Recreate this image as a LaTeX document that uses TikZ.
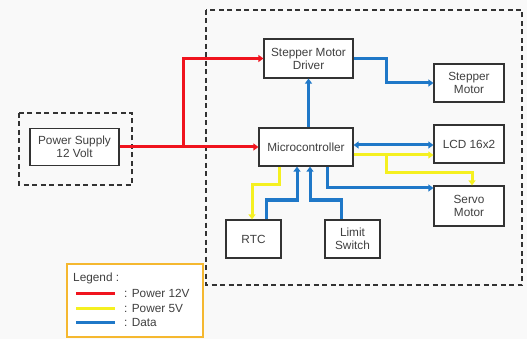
\documentclass[tikz,border=0pt]{standalone}
\usepackage{fontspec}
\setmainfont{Liberation Sans}
\usetikzlibrary{arrows.meta}
\definecolor{txt}{HTML}{404040}
\definecolor{pred}{HTML}{F0141E}
\definecolor{pyel}{HTML}{F5F020}
\definecolor{pblue}{HTML}{1F78C8}
\definecolor{lgborder}{HTML}{F5B830}
\tikzset{
  blk/.style={draw=black!80, line width=1.2pt, fill=white, text=txt, align=center, font=\fontsize{11.8}{13}\selectfont, inner sep=1pt},
  conn/.style={line width=3pt, -{Triangle[length=5pt,width=7pt]}},
  p12/.style={conn, draw=pred},
  p5/.style={conn, draw=pyel},
  dat/.style={conn, draw=pblue},
  grp/.style={draw=black!80, line width=1.1pt, dash pattern=on 5pt off 3.5pt},
  lgline/.style={line width=3pt},
  lgtext/.style={text=txt, font=\fontsize{11.8}{13}\selectfont, anchor=west, inner sep=0pt}
}
\begin{document}
\begin{tikzpicture}[x=1pt,y=-1pt]
\fill[gray!5] (0,0) rectangle (527,339);
\useasboundingbox (0,0) rectangle (527,339);
% groups
\draw[grp] (206,10) rectangle (522,285);
\draw[grp] (19,113) rectangle (132,185);
% nodes
\node[blk, minimum width=89pt, minimum height=37pt] (ps) at (74.5,147) {Power Supply\\12 Volt};
\node[blk, minimum width=89pt, minimum height=39pt] (drv) at (308.5,58.5) {Stepper Motor\\Driver};
\node[blk, minimum width=70pt, minimum height=38pt] (sm) at (469,83) {Stepper\\Motor};
\node[blk, minimum width=94pt, minimum height=38pt] (mc) at (306,147) {Microcontroller};
\node[blk, minimum width=70pt, minimum height=38pt] (lcd) at (469,144) {LCD 16x2};
\node[blk, minimum width=70pt, minimum height=40pt] (sv) at (469,206) {Servo\\Motor};
\node[blk, minimum width=55pt, minimum height=38pt] (rtc) at (253.5,239) {RTC};
\node[blk, minimum width=55pt, minimum height=38pt] (ls) at (352.5,239) {Limit\\Switch};
% power 12V
\draw[p12] (ps.east) -- (mc.west);
\draw[p12] (183,147) |- (drv.west);
% data
\draw[dat] (drv.east) -- (386,58.5) |- (sm.west);
\draw[dat] (mc.north -| drv.south) -- (drv.south);
\draw[dat, {Triangle[length=5pt,width=7pt]}-{Triangle[length=5pt,width=7pt]}] (mc.east |- 0,145) -- (lcd.west |- 0,145);
\draw[dat] (mc.south -| 327,0) |- (sv.west |- 0,188);
\draw[dat] (rtc.north -| 266,0) |- (297,200) -- (mc.south -| 297,0);
\draw[dat] (ls.north -| 341,0) |- (310,200) -- (mc.south -| 310,0);
% power 5V
\draw[p5] (mc.east |- 0,155) -- (lcd.west |- 0,155);
\draw[p5] (386,155) |- (472,173) -- (sv.north -| 472,0);
\draw[p5] (mc.south -| 279,0) |- (252,185) -- (rtc.north -| 252,0);
% legend
\draw[draw=lgborder, line width=1.2pt, fill=white] (67,264) rectangle (203,337);
\node[lgtext] (lgt) at (73,278) {Legend :};
\draw[lgline, pred] (76,293) -- (115,293);
\draw[lgline, pyel] (76,308) -- (115,308);
\draw[lgline, pblue] (76,322) -- (115,322);
\node[lgtext] (l1) at (124,293) {: Power 12V};
\node[lgtext] (l2) at (124,308) {: Power 5V};
\node[lgtext] (l3) at (124,322) {: Data};
\end{tikzpicture}
\end{document}
